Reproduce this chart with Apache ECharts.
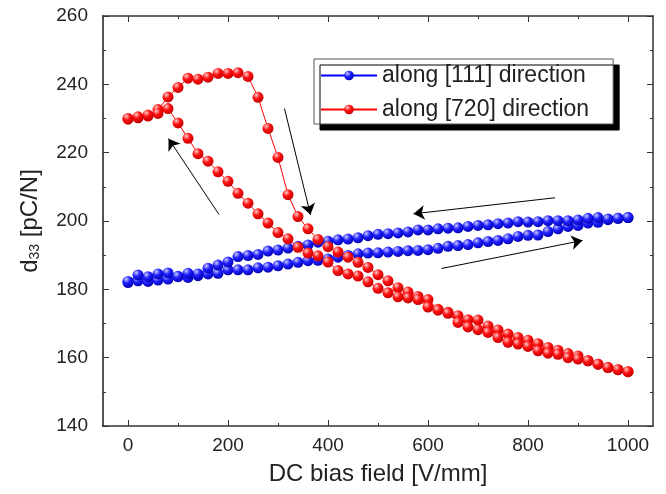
<!DOCTYPE html>
<html>
<head>
<meta charset="utf-8">
<script src="https://cdn.jsdelivr.net/npm/echarts@6/dist/echarts.min.js"></script>
<style>
  html, body { margin: 0; padding: 0; background: #fff; }
  #chart { width: 666px; height: 494px; }
</style>
</head>
<body>
<div id="chart"></div>
<script>
// bias field steps (V/mm), swept 0 -> 1000 and back
const fieldSteps = [0, 20, 40, 60, 80, 100, 120, 140, 160, 180, 200, 220, 240, 260, 280, 300, 320, 340, 360, 380,
  400, 420, 440, 460, 480, 500, 520, 540, 560, 580, 600, 620, 640, 660, 680, 700, 720, 740, 760, 780,
  800, 820, 840, 860, 880, 900, 920, 940, 960, 980, 1000];

// [111]: increasing field (lower branch) and decreasing field (upper branch)
const d111Up = [182.0, 182.5, 182.3, 182.7, 183.0, 183.7, 183.5, 184.0, 184.5, 184.7, 185.7, 185.7, 185.7, 186.3, 186.5, 186.9, 187.4, 187.9, 188.4, 188.5,
  188.9, 189.4, 189.9, 190.4, 190.6, 190.7, 190.9, 191.1, 191.3, 191.4, 191.6, 192.0, 192.6, 192.8, 193.1, 193.6, 194.0, 194.3, 194.8, 195.5,
  195.8, 195.9, 196.9, 197.7, 198.4, 198.7, 199.4, 199.6, 200.4, 200.8, 201.0];
const d111Down = [182.3, 184.2, 183.7, 184.5, 184.8, 183.8, 184.7, 184.5, 186.2, 187.1, 188.0, 189.6, 189.9, 190.2, 191.2, 191.5, 192.1, 192.6, 193.0, 193.8,
  194.1, 194.5, 194.7, 195.1, 195.7, 196.1, 196.3, 196.5, 196.8, 197.4, 197.4, 197.7, 197.9, 198.0, 198.4, 198.7, 198.9, 199.2, 199.4, 199.8,
  199.7, 199.8, 200.1, 200.1, 200.1, 200.3, 200.8, 201.0, 200.6, 200.8, 201.0];

// [720]
const d720Up = [229.8, 230.2, 230.7, 232.6, 236.3, 239.1, 241.8, 241.5, 242.1, 243.2, 243.2, 243.4, 242.3, 236.2, 227.1, 218.6, 207.7, 201.3, 197.7, 194.6,
  192.5, 190.9, 189.4, 187.9, 186.4, 184.3, 182.5, 180.5, 179.2, 177.9, 177.0, 174.2, 173.3, 172.3, 171.1, 171.0, 169.3, 168.1, 166.9, 165.9,
  165.1, 164.1, 163.0, 162.2, 161.2, 160.5, 159.1, 158.1, 157.1, 156.5, 155.9];
const d720Down = [230.0, 230.5, 231.0, 231.5, 232.9, 228.7, 224.2, 219.7, 217.5, 214.4, 211.6, 208.1, 205.2, 202.1, 199.4, 196.6, 194.8, 192.3, 190.6, 189.8,
  188.0, 185.5, 184.5, 183.9, 182.2, 180.3, 179.0, 177.8, 177.5, 177.0, 174.8, 173.9, 173.0, 170.3, 169.0, 168.2, 167.4, 165.9, 164.5, 164.0,
  163.3, 162.0, 161.3, 161.0, 160.0, 159.6, 159.1, 158.1, 157.1, 156.5, 155.9];

const seriesNames = ["along [111] direction", "along [720] direction"];
const xMajorTicks = [0, 200, 400, 600, 800, 1000];
const xMinorTicks = [100, 300, 500, 700, 900];

// sweep-direction arrows, [start, end] in data units
const sweepArrows = [
  [[182, 201.9], [81, 224.1]],
  [[313, 232.9], [365, 201.8]],
  [[854, 206.8], [571, 202.1]],
  [[627, 186.1], [909, 194.3]],
];

const font = "Liberation Sans, Arial, sans-serif";
const textColor = "#222";
const axisColor = "#333";

function loop(up, down) {
  const pts = [];
  fieldSteps.forEach((x, i) => pts.push([x, up[i]]));
  for (let i = fieldSteps.length - 1; i >= 0; i--) pts.push([fieldSteps[i], down[i]]);
  return pts;
}

function ball(light, mid, dark) {
  return new echarts.graphic.RadialGradient(0.35, 0.3, 0.75, [
    { offset: 0, color: light },
    { offset: 0.45, color: mid },
    { offset: 1, color: dark },
  ]);
}

const xBase = { type: "value", min: -50, max: 1050, splitLine: { show: false } };
const yBase = {
  type: "value", min: 140, max: 260, interval: 20, splitLine: { show: false },
  minorTick: { show: true, splitNumber: 2, length: 3, lineStyle: { color: axisColor } },
};

const chart = echarts.init(document.getElementById("chart"));
chart.setOption({
  animation: false,
  backgroundColor: "#fff",
  grid: { left: 103, right: 13, top: 16, bottom: 68 },
  legend: {
    orient: "vertical",
    left: 314,
    top: 59,
    padding: [5, 24, 3, 6],
    itemGap: 11,
    itemWidth: 56,
    itemHeight: 12,
    backgroundColor: "#fff",
    borderColor: "#555",
    borderWidth: 1,
    shadowColor: "#000",
    shadowBlur: 0,
    shadowOffsetX: 6,
    shadowOffsetY: 6,
    textStyle: { fontFamily: font, fontSize: 23, color: textColor },
    data: seriesNames,
  },
  xAxis: [
    {
      ...xBase,
      position: "bottom",
      name: "DC bias field [V/mm]",
      nameLocation: "middle",
      nameGap: 36,
      nameTextStyle: { fontFamily: font, fontSize: 24, color: textColor },
      axisLine: { onZero: false, lineStyle: { color: axisColor, width: 1.5 } },
      axisTick: { inside: true, length: 6, customValues: xMajorTicks, lineStyle: { color: axisColor } },
      axisLabel: {
        customValues: xMajorTicks, fontFamily: font, fontSize: 19, color: textColor, margin: 10,
        formatter: (v) => String(v),
      },
    },
    {
      ...xBase,
      position: "bottom",
      axisLine: { show: false, onZero: false },
      axisTick: { inside: true, length: 3, customValues: xMinorTicks, lineStyle: { color: axisColor } },
      axisLabel: { show: false },
    },
    {
      ...xBase,
      position: "top",
      axisLine: { onZero: false, lineStyle: { color: axisColor, width: 1.5 } },
      axisTick: { inside: true, length: 6, customValues: xMajorTicks, lineStyle: { color: axisColor } },
      axisLabel: { show: false },
    },
    {
      ...xBase,
      position: "top",
      axisLine: { show: false, onZero: false },
      axisTick: { inside: true, length: 3, customValues: xMinorTicks, lineStyle: { color: axisColor } },
      axisLabel: { show: false },
    },
  ],
  yAxis: [
    {
      ...yBase,
      position: "left",
      name: "{d|d}{s|33}{d| [pC/N]}",
      nameLocation: "middle",
      nameGap: 61,
      nameTextStyle: {
        fontFamily: font,
        color: textColor,
        rich: {
          d: { fontFamily: font, fontSize: 24, color: textColor, lineHeight: 30, verticalAlign: "bottom" },
          s: { fontFamily: font, fontSize: 14, color: textColor, lineHeight: 14, verticalAlign: "bottom" },
        },
      },
      axisLine: { show: true, onZero: false, lineStyle: { color: "#555", width: 2 } },
      axisTick: { inside: true, length: 6, lineStyle: { color: axisColor } },
      axisLabel: { fontFamily: font, fontSize: 19, color: textColor, margin: 15 },
    },
    {
      ...yBase,
      position: "right",
      axisLine: { show: true, onZero: false, lineStyle: { color: axisColor, width: 1.5 } },
      axisTick: { inside: true, length: 6, lineStyle: { color: axisColor } },
      axisLabel: { show: false },
    },
  ],
  series: [
    {
      name: seriesNames[0],
      type: "line",
      data: loop(d111Up, d111Down),
      symbol: "circle",
      symbolSize: 11,
      showAllSymbol: true,
      lineStyle: { color: "#0000ff", width: 1 },
      itemStyle: { color: ball("#c8c8ff", "#2020ff", "#0000b0") },
      markLine: {
        silent: true,
        symbol: ["none", "arrow"],
        symbolSize: 11,
        label: { show: false },
        lineStyle: { color: "#000", width: 1, type: "solid" },
        data: sweepArrows.map((a) => [{ coord: a[0] }, { coord: a[1] }]),
      },
    },
    {
      name: seriesNames[1],
      type: "line",
      data: loop(d720Up, d720Down),
      symbol: "circle",
      symbolSize: 11,
      showAllSymbol: true,
      lineStyle: { color: "#ff0000", width: 1 },
      itemStyle: { color: ball("#ffc8c8", "#ff1010", "#c00000") },
    },
  ],
});
</script>
</body>
</html>
